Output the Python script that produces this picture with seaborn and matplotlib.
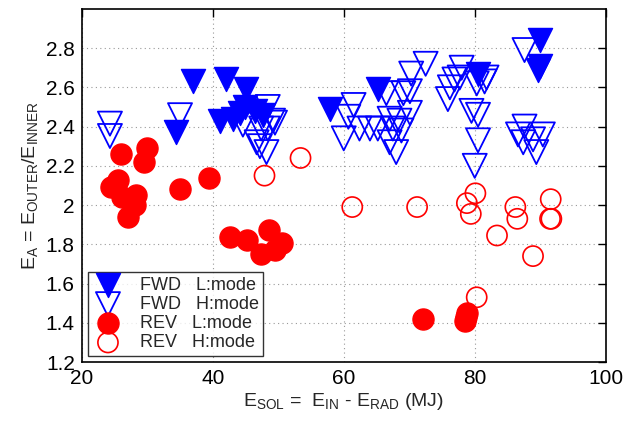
import matplotlib
matplotlib.use("Agg")
import matplotlib.pyplot as plt
import seaborn as sns
import pandas as pd

# FWD, L-mode (filled blue triangles)
fwd_l_x = [34.4, 37.0, 42.0, 45.1, 44.9, 41.1, 43.1, 44.1, 47.7, 46.5, 57.9, 65.2, 80.5, 89.9, 90.0, 89.6]
fwd_l_y = [2.37, 2.63, 2.645, 2.59, 2.50, 2.43, 2.44, 2.47, 2.46, 2.48, 2.49, 2.59, 2.67, 2.84, 2.71, 2.69]

# FWD, H-mode (open blue triangles)
fwd_h_x = [24.3, 24.3, 35.0, 44.6, 48.4, 49.2, 48.4, 47.4, 47.2, 48.2, 49.5, 46.7,
           61.5, 60.7, 60.0, 62.4, 64.0, 65.2, 66.5, 67.0, 67.5, 68.5, 67.0, 68.0, 68.8,
           70.1, 69.1, 70.1, 70.3, 72.5,
           75.9, 76.2, 76.9, 77.7, 78.0, 80.3, 81.5, 81.8, 79.5, 80.5, 80.5, 80.0,
           87.6, 87.6, 86.6, 87.4, 88.9, 90.4, 89.4]
fwd_h_y = [2.415, 2.352, 2.458, 2.41, 2.50, 2.43, 2.39, 2.39, 2.30, 2.27, 2.42, 2.32,
           2.51, 2.45, 2.34, 2.39, 2.39, 2.39, 2.57, 2.44, 2.39, 2.43, 2.32, 2.27, 2.38,
           2.47, 2.57, 2.58, 2.67, 2.72,
           2.54, 2.60, 2.64, 2.65, 2.70, 2.62, 2.63, 2.65, 2.48, 2.46, 2.33, 2.20,
           2.79, 2.40, 2.36, 2.32, 2.335, 2.36, 2.27]

# REV, L-mode (filled red circles)
rev_l_x = [26.0, 29.9, 29.5, 25.5, 24.4, 25.3, 28.3, 28.1, 27.1, 26.2, 35.0, 39.4,
           42.7, 45.2, 48.6, 47.3, 50.5, 49.5, 72.1, 78.5, 78.8, 78.6]
rev_l_y = [2.26, 2.29, 2.22, 2.13, 2.09, 2.10, 2.05, 2.00, 1.94, 2.04, 2.08, 2.14,
           1.835, 1.82, 1.875, 1.75, 1.805, 1.77, 1.42, 1.41, 1.45, 1.43]

# REV, H-mode (open red circles)
rev_h_x = [47.9, 53.4, 61.3, 71.2, 80.1, 78.8, 79.4, 83.4, 86.2, 86.5, 91.6, 91.5, 91.7, 88.9, 80.3]
rev_h_y = [2.15, 2.24, 1.99, 1.99, 2.06, 2.01, 1.955, 1.845, 1.99, 1.93, 2.03, 1.93, 1.93, 1.74, 1.53]

labels = ["FWD   L:mode", "FWD   H:mode", "REV   L:mode", "REV   H:mode"]
x_ticks = [20, 40, 60, 80, 100]
y_ticks = [1.2, 1.4, 1.6, 1.8, 2.0, 2.2, 2.4, 2.6, 2.8]
y_ticklabels = ["1.2", "1.4", "1.6", "1.8", "2", "2.2", "2.4", "2.6", "2.8"]

sns.set_style("white")
plt.rcParams["font.family"] = ["Liberation Sans", "DejaVu Sans"]
plt.rcParams["mathtext.fontset"] = "custom"
plt.rcParams["mathtext.rm"] = "Liberation Sans"
plt.rcParams["mathtext.it"] = "Liberation Sans"

fig = plt.figure(figsize=(6.29, 4.21), dpi=100)
ax = fig.add_axes([0.130, 0.140, 0.833, 0.839])

blue = "#0000ff"
red = "#ff0000"

df_fl = pd.DataFrame({"x": fwd_l_x, "y": fwd_l_y})
df_fh = pd.DataFrame({"x": fwd_h_x, "y": fwd_h_y})
df_rl = pd.DataFrame({"x": rev_l_x, "y": rev_l_y})
df_rh = pd.DataFrame({"x": rev_h_x, "y": rev_h_y})

sns.scatterplot(data=df_fl, x="x", y="y", ax=ax, marker="v", s=300,
                color=blue, edgecolor=blue, linewidth=1.0, label=labels[0], zorder=3)
sns.scatterplot(data=df_fh, x="x", y="y", ax=ax, marker="v", s=300,
                facecolor="none", edgecolor=blue, linewidth=1.3, label=labels[1], zorder=3)
sns.scatterplot(data=df_rl, x="x", y="y", ax=ax, marker="o", s=230,
                color=red, edgecolor=red, linewidth=1.0, label=labels[2], zorder=3)
sns.scatterplot(data=df_rh, x="x", y="y", ax=ax, marker="o", s=210,
                facecolor="none", edgecolor=red, linewidth=1.2, label=labels[3], zorder=3)

ax.set_xlim(20, 100)
ax.set_ylim(1.2, 3.0)
ax.set_xticks(x_ticks)
ax.set_yticks(y_ticks)
ax.set_yticklabels(y_ticklabels)
ax.tick_params(direction="in", length=6, width=1, top=True, right=True,
               labelsize=15, pad=5, colors="black")
ax.grid(True, linestyle=(0, (1, 3)), color="#999999", linewidth=0.8)
ax.set_axisbelow(True)
for sp in ax.spines.values():
    sp.set_color("black")
    sp.set_linewidth(1.2)

# plain hyphen (U+2010) so the label shows "-" rather than a math minus
ax.set_xlabel("$\\mathregular{E_{SOL}}$ =  $\\mathregular{E_{IN}}$ \u2010 $\\mathregular{E_{RAD}}$ (MJ)",
              fontsize=14, labelpad=2)
ax.set_ylabel("$\\mathregular{E_{A}}$ = $\\mathregular{E_{OUTER}}$/$\\mathregular{E_{INNER}}$",
              fontsize=14, labelpad=4)

leg = ax.legend(loc="lower left", fontsize=13, frameon=True, fancybox=False,
                edgecolor="black", borderpad=0.25, labelspacing=0.12,
                handletextpad=0.9, borderaxespad=0.35, handlelength=1.7)
leg.get_frame().set_linewidth(1.0)

fig.savefig("out.png", dpi=100, facecolor="white")
